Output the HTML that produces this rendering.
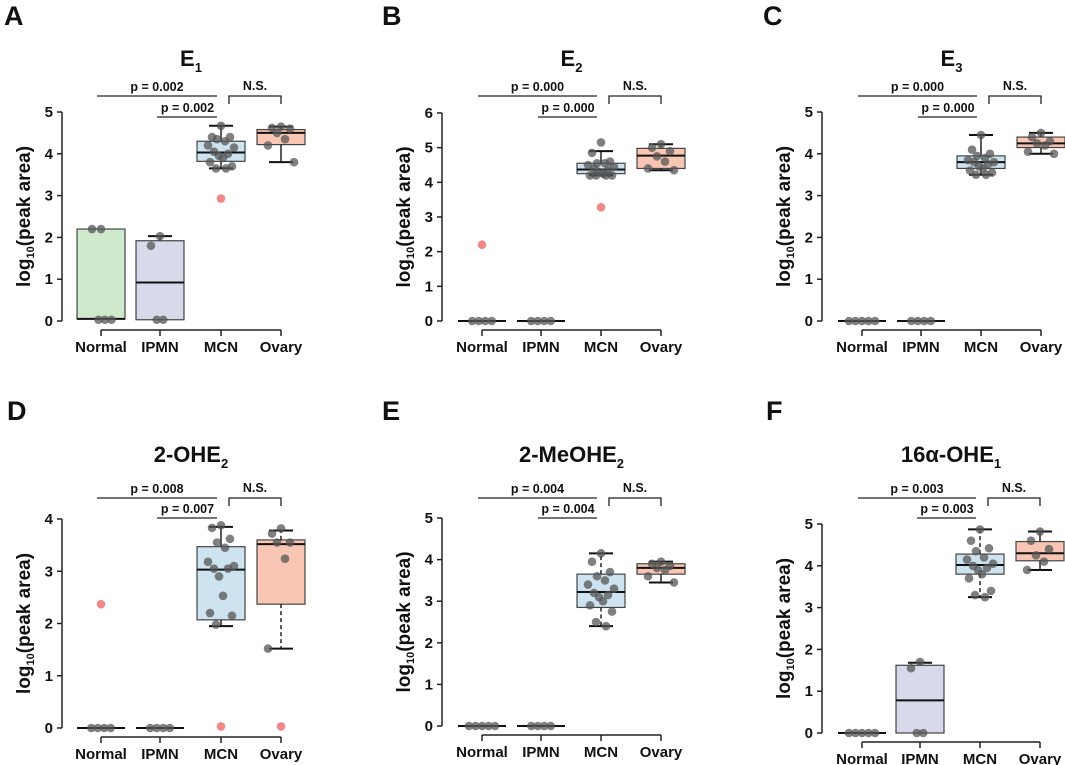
<!DOCTYPE html>
<html><head><meta charset="utf-8"><style>
body{margin:0;background:#fff;}
svg{display:block;font-family:"Liberation Sans",Arial,sans-serif;}
</style></head><body>
<svg id="fig" width="1065" height="765" viewBox="0 0 1065 765"></svg>
<script>
const categories = ["Normal","IPMN","MCN","Ovary"];
const fills = ["#cfe9cc","#d8d9ea","#cde3f0","#f8c6b3"];
// stats: [whiskerLow, q1, median, q3, whiskerHigh]
const aPoints = [[2.2,2.2,0.03,0.03,0.03],[2.03,1.8,0.03,0.03],[4.67,4.4,4.4,4.35,4.3,4.2,4.15,4.05,4.0,3.95,3.9,3.8,3.7,3.65,3.65],[4.65,4.62,4.6,4.5,4.35,4.2,3.8]];
const aOut = [[],[],[2.93],[]];
const aStats = [[0.05,0.05,0.05,2.2,2.2],[0.03,0.03,0.92,1.92,2.03],[3.65,3.82,4.03,4.3,4.67],[3.8,4.22,4.5,4.58,4.65]];
const bPoints = [[0,0,0,0],[0,0,0,0],[5.15,4.85,4.6,4.55,4.55,4.5,4.45,4.4,4.35,4.3,4.25,4.2,4.2,4.2,4.2],[5.1,5.0,4.9,4.75,4.6,4.4,4.35]];
const bOut = [[2.2],[],[3.28],[]];
const bStats = [[0,0,0,0,0],[0,0,0,0,0],[4.2,4.25,4.37,4.55,4.9],[4.35,4.4,4.77,4.98,5.1]];
const cPoints = [[0,0,0,0,0],[0,0,0,0],[4.45,4.1,4.0,3.95,3.9,3.85,3.8,3.8,3.75,3.7,3.65,3.6,3.55,3.5,3.5],[4.5,4.4,4.3,4.25,4.2,4.05,4.0]];
const cOut = [[],[],[],[]];
const cStats = [[0,0,0,0,0],[0,0,0,0,0],[3.5,3.65,3.8,3.95,4.45],[4.0,4.15,4.25,4.4,4.5]];
const dPoints = [[0,0,0,0],[0,0,0,0],[3.88,3.83,3.62,3.55,3.45,3.18,3.1,3.05,3.05,2.9,2.53,2.2,2.15,1.98],[3.82,3.72,3.55,3.55,3.24,1.52]];
const dOut = [[2.37],[],[0.03],[0.03]];
const dStats = [[0,0,0,0,0],[0,0,0,0,0],[1.95,2.07,3.03,3.47,3.85],[1.52,2.37,3.52,3.6,3.78]];
const ePoints = [[0,0,0,0,0],[0,0,0,0],[4.15,3.95,3.7,3.6,3.5,3.4,3.3,3.2,3.15,3.1,3.0,2.9,2.75,2.5,2.4],[3.95,3.9,3.85,3.8,3.75,3.6,3.45]];
const eOut = [[],[],[],[]];
const eStats = [[0,0,0,0,0],[0,0,0,0,0],[2.4,2.85,3.22,3.65,4.15],[3.45,3.65,3.8,3.9,3.95]];
const fPoints = [[0,0,0,0,0],[1.7,1.55,0,0],[4.87,4.6,4.42,4.35,4.2,4.15,4.05,4.0,3.95,3.9,3.8,3.7,3.4,3.3,3.25],[4.82,4.6,4.4,4.25,4.1,3.9]];
const fOut = [[],[],[],[]];
const fStats = [[0,0,0,0,0],[0,0.0,0.78,1.62,1.68],[3.25,3.8,4.02,4.28,4.87],[3.9,4.12,4.3,4.58,4.82]];
const pLong = ["p = 0.002","p = 0.000","p = 0.000","p = 0.008","p = 0.004","p = 0.003"];
const pShort = ["p = 0.002","p = 0.000","p = 0.000","p = 0.007","p = 0.004","p = 0.003"];
const yMaxes = [5,6,5,4,5,5];

const NS="http://www.w3.org/2000/svg";
const svg=document.getElementById('fig');
function mk(tag,attrs,parent){const e=document.createElementNS(NS,tag);for(const k in attrs)e.setAttribute(k,attrs[k]);(parent||svg).appendChild(e);return e;}

const panels=[
 {L:"A",title:["E","1"],pre:"",ax:62,y0:321,yt:112,cats:[101,160,221,281],row:0,lx:4,pts:aPoints,out:aOut,st:aStats,dash:[false,false,false,false]},
 {L:"B",title:["E","2"],pre:"",ax:442,y0:321,yt:113,cats:[482,541,601,661],row:0,lx:382,pts:bPoints,out:bOut,st:bStats,dash:[false,false,false,false]},
 {L:"C",title:["E","3"],pre:"",ax:822,y0:321,yt:112,cats:[862,921,981,1041],row:0,lx:763,pts:cPoints,out:cOut,st:cStats,dash:[false,false,false,false]},
 {L:"D",title:["2-OHE","2"],pre:"",ax:62,y0:728,yt:519,cats:[101,160,221,281],row:1,lx:7,pts:dPoints,out:dOut,st:dStats,dash:[false,false,false,true]},
 {L:"E",title:["2-MeOHE","2"],pre:"",ax:442,y0:726,yt:518,cats:[482,541,601,661],row:1,lx:382,pts:ePoints,out:eOut,st:eStats,dash:[false,false,true,false]},
 {L:"F",title:["16α-OHE","1"],pre:"",ax:822,y0:733,yt:524,cats:[862,920,980,1040],row:1,lx:766,pts:fPoints,out:fOut,st:fStats,dash:[false,false,true,false]},
];
const jit=[0,-9,9,-4,4,-13,13,-7,7,-2,2,-11,11,-5,5];
panels.forEach((p,pi)=>{
  const g=mk('g',{});
  
  
  const rowTop=p.row?390:0;
  const yMax=yMaxes[pi];
  const Y=v=>p.y0-(p.yt-p.y0)*-1*(v/yMax);
  const lt=mk('text',{x:p.lx,y:rowTop+(p.row?30:25),'font-size':27,'font-weight':'bold',fill:'#111'},g);lt.textContent=p.L;
  
  const cx=(p.cats[0]+p.cats[3])/2;
  const t=mk('text',{x:cx,y:rowTop+(p.row?72:66),'font-size':22,'font-weight':'bold','text-anchor':'middle',fill:'#111'},g);
  
  t.appendChild(document.createTextNode(p.title[0]));
  const ts=mk('tspan',{'font-size':13,dy:6},t);ts.textContent=p.title[1];
  // y axis
  const ya=mk('line',{x1:p.ax,x2:p.ax,y1:p.y0,y2:p.yt,stroke:'#222','stroke-width':1.5},g);
  
  for(let v=0;v<=yMax;v++){
    mk('line',{x1:p.ax-5,x2:p.ax,y1:Y(v),y2:Y(v),stroke:'#222','stroke-width':1.5},g);
    const tl=mk('text',{x:p.ax-9,y:Y(v)+5,'font-size':15,'font-weight':'bold','text-anchor':'end',fill:'#111'},g);tl.textContent=v;
    
  }
  const ymid=(p.y0+p.yt)/2;
  const yl=mk('text',{x:0,y:0,'font-size':19,'font-weight':'bold','text-anchor':'middle',fill:'#111',transform:`translate(${p.ax-32},${ymid}) rotate(-90)`},g);
  
  yl.appendChild(document.createTextNode('log'));
  const s1=mk('tspan',{'font-size':11,dy:4},yl);s1.textContent='10';
  const s2=mk('tspan',{dy:-4},yl);s2.textContent='(peak area)';
  // x axis
  const xy=p.y0+9;
  const xa=mk('line',{x1:p.cats[0],x2:p.cats[3],y1:xy,y2:xy,stroke:'#222','stroke-width':1.5},g);
  
  categories.forEach((c,i)=>{
    mk('line',{x1:p.cats[i],x2:p.cats[i],y1:xy,y2:xy+6,stroke:'#222','stroke-width':1.5},g);
    const cl=mk('text',{x:p.cats[i],y:xy+22,'font-size':15,'font-weight':'bold','text-anchor':'middle',fill:'#111'},g);cl.textContent=c;
    
  });
  // boxes
  categories.forEach((c,i)=>{
    const x=p.cats[i],s=p.st[i],w=24;
    const bg=mk('g',{},g);
    
    if(s[3]-s[1]>0.001){
      mk('rect',{x:x-w,y:Y(s[3]),width:2*w,height:Y(s[1])-Y(s[3]),fill:fills[i],stroke:'#444','stroke-width':1.2},bg);
    }
    const da=p.dash[i]?'4,3':'none';
    if(s[4]>s[3]+0.001){mk('line',{x1:x,x2:x,y1:Y(s[3]),y2:Y(s[4]),stroke:'#222','stroke-width':1.5,'stroke-dasharray':da},bg);mk('line',{x1:x-12,x2:x+12,y1:Y(s[4]),y2:Y(s[4]),stroke:'#111','stroke-width':2},bg);}
    if(s[1]>s[0]+0.001){mk('line',{x1:x,x2:x,y1:Y(s[1]),y2:Y(s[0]),stroke:'#222','stroke-width':1.5,'stroke-dasharray':da},bg);mk('line',{x1:x-12,x2:x+12,y1:Y(s[0]),y2:Y(s[0]),stroke:'#111','stroke-width':2},bg);}
    mk('line',{x1:x-w,x2:x+w,y1:Y(s[2]),y2:Y(s[2]),stroke:'#111','stroke-width':2},bg);
    const pts=p.pts[i];
    pts.forEach((v,k)=>{
      const zeros=pts.filter(q=>q<0.1).length;
      let dx;
      if(v<0.1){const zi=pts.slice(0,k).filter(q=>q<0.1).length;dx=(zi-(zeros-1)/2)*6.5;if(i===0&&pi===0)dx+=4;}
      else dx=jit[k%jit.length];
      const cpt=mk('circle',{cx:x+dx,cy:Y(v),r:4.3,fill:'#555','fill-opacity':0.75},bg);
      
    });
    p.out[i].forEach(v=>{
      const o=mk('circle',{cx:x,cy:Y(v),r:4.3,fill:'#f08888'},bg);
      
    });
  });
  // significance
  const l1=rowTop+(p.row?108:96),l2=rowTop+(p.row?128:117);
  const sg=mk('g',{stroke:'#222','stroke-width':1.3,fill:'none'},g);
  
  mk('line',{x1:p.cats[0]-4,x2:p.cats[2]-4,y1:l1,y2:l1},sg);
  mk('line',{x1:p.cats[1]-3,x2:p.cats[2]-4,y1:l2,y2:l2},sg);
  mk('polyline',{points:`${p.cats[2]+8},${l1+8} ${p.cats[2]+8},${l1} ${p.cats[3]},${l1} ${p.cats[3]},${l1+8}`},sg);
  const addT=(x,y,s,n)=>{const e=mk('text',{x:x,y:y,'font-size':12.5,'font-weight':'bold','text-anchor':'middle',fill:'#111'},g);e.textContent=s;};
  addT((p.cats[0]+p.cats[2])/2-4,l1-5,pLong[pi],'p-value-normal-mcn');
  addT((p.cats[1]+p.cats[2])/2-3,l2-5,pShort[pi],'p-value-ipmn-mcn');
  addT((p.cats[2]+p.cats[3])/2+4,l1-6,'N.S.','ns-label-mcn-ovary');
});
</script>
</body></html>
